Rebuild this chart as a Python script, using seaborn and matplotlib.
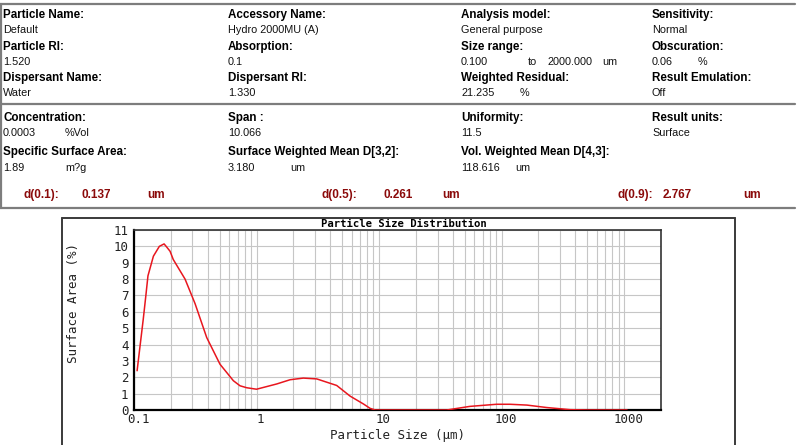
import matplotlib
matplotlib.use("Agg")
import matplotlib.pyplot as plt
from matplotlib.lines import Line2D
from matplotlib.ticker import LogLocator, NullFormatter
from matplotlib.transforms import ScaledTranslation
import numpy as np
import pandas as pd
import seaborn as sns

# ---------------- data ----------------
particle_size = [0.106, 0.119, 0.125, 0.130, 0.144, 0.161, 0.176, 0.183, 0.197, 0.209,
                 0.261, 0.315, 0.392, 0.503, 0.647, 0.733, 0.832, 1.0, 1.46,
                 1.88, 2.41, 3.10, 4.51, 5.8, 7.45, 8.45, 9.3, 20.0, 35.7,
                 55.0, 91.0, 117.0, 161.0, 234.0, 362.0, 500.0, 1057.0]
surface_area = [2.4, 5.55, 7.0, 8.2, 9.4, 10.0, 10.15, 10.0, 9.7, 9.2,
                8.0, 6.5, 4.43, 2.8, 1.79, 1.48, 1.36, 1.27, 1.59,
                1.85, 1.95, 1.90, 1.5, 0.85, 0.37, 0.1, 0.0, 0.0, 0.0,
                0.22, 0.35, 0.35, 0.30, 0.15, 0.02, 0.0, 0.0]
x_ticks = [0.1, 1, 10, 100, 1000]
x_tick_labels = ["0.1", "1", "10", "100", "1000"]
y_ticks = list(range(0, 12))

# header texts: (x px, y px, text)
header_labels = [
    (3, 15, "Particle Name:"), (228, 15, "Accessory Name:"), (461, 15, "Analysis model:"), (652, 15, "Sensitivity:"),
    (3, 47, "Particle RI:"), (228, 47, "Absorption:"), (461, 47, "Size range:"), (652, 47, "Obscuration:"),
    (3, 78, "Dispersant Name:"), (228, 78, "Dispersant RI:"), (461, 78, "Weighted Residual:"), (652, 78, "Result Emulation:"),
    (3, 118, "Concentration:"), (228, 118, "Span :"), (461, 118, "Uniformity:"), (652, 118, "Result units:"),
    (3, 152, "Specific Surface Area:"), (228, 152, "Surface Weighted Mean D[3,2]:"), (461, 152, "Vol. Weighted Mean D[4,3]:"),
]
header_values = [
    (3, 30, "Default"), (228, 30, "Hydro 2000MU (A)"), (461, 30, "General purpose"), (652, 30, "Normal"),
    (3, 62, "1.520"), (228, 62, "0.1"), (461, 62, "0.100"), (528, 62, "to"), (547, 62, "2000.000"), (602, 62, "um"),
    (652, 62, "0.06"), (698, 62, "%"),
    (3, 93, "Water"), (228, 93, "1.330"), (461, 93, "21.235"), (520, 93, "%"), (652, 93, "Off"),
    (3, 133, "0.0003"), (65, 133, "%Vol"), (228, 133, "10.066"), (461, 133, "11.5"), (652, 133, "Surface"),
    (3, 168, "1.89"), (65, 168, "m?g"), (228, 168, "3.180"), (290, 168, "um"), (461, 168, "118.616"), (515, 168, "um"),
]
d_values = [
    (23, 195, "d(0.1):"), (82, 195, "0.137"), (147, 195, "um"),
    (322, 195, "d(0.5):"), (383, 195, "0.261"), (442, 195, "um"),
    (617, 195, "d(0.9):"), (663, 195, "2.767"), (743, 195, "um"),
]

# ---------------- figure ----------------
sns.set_theme(style="white")
plt.rcParams['font.family'] = ['Liberation Sans', 'DejaVu Sans']

W, H = 800, 445
fig = plt.figure(figsize=(W / 100, H / 100), dpi=100)
fig.patch.set_facecolor("white")


def fx(x):
    return x / W


def fy(y):
    return 1 - y / H


def hline(x0, x1, y, color, lw):
    fig.add_artist(Line2D([fx(x0), fx(x1)], [fy(y), fy(y)], color=color, lw=lw,
                          transform=fig.transFigure))


def vline(x, y0, y1, color, lw):
    fig.add_artist(Line2D([fx(x), fx(x)], [fy(y0), fy(y1)], color=color, lw=lw,
                          transform=fig.transFigure))


# header rules
rule_c = "#7d7d7d"
for yy in (4, 104, 208):
    hline(0, 795, yy, rule_c, 1.6)
vline(1, 4, 208, rule_c, 1.6)

for x, y, t in header_labels:
    fig.text(fx(x), fy(y), t, fontsize=8.4, fontweight="bold", ha="left", va="center", color="black")
for x, y, t in header_values:
    fig.text(fx(x), fy(y), t, fontsize=7.8, ha="left", va="center", color="#111111")
for x, y, t in d_values:
    fig.text(fx(x), fy(y), t, fontsize=8.5, fontweight="bold", ha="left", va="center", color="#8b0a0a")

# chart outer box
box_c = "#3a3a3a"
hline(62, 735, 218, box_c, 1.4)
vline(62, 218, 446, box_c, 1.4)
vline(735, 218, 446, box_c, 1.4)
fig.text(fx(404), fy(224), "Particle Size Distribution", fontsize=7.6, fontweight="bold",
         family="DejaVu Sans Mono", ha="center", va="center", color="black")

# axes
ax = fig.add_axes([fx(134), fy(410), (661 - 134) / W, (410 - 230) / H])
ax.set_xscale("log")
df = pd.DataFrame({"Particle Size": particle_size, "Surface Area": surface_area})
sns.lineplot(data=df, x="Particle Size", y="Surface Area", ax=ax, color="#e8161e",
             linewidth=1.1, zorder=5)
ax.set_xlim(0.1, 2000)
ax.set_ylim(0, 11)
ax.set_xticks(x_ticks)
ax.set_xticklabels(x_tick_labels)
ax.xaxis.set_minor_locator(LogLocator(base=10, subs=np.arange(2, 10)))
ax.xaxis.set_minor_formatter(NullFormatter())
ax.set_yticks(y_ticks)
ax.set_yticklabels([str(v) for v in y_ticks])
ax.grid(True, which="both", axis="x", color="#c6c6c6", lw=0.8)
ax.grid(True, which="major", axis="y", color="#c6c6c6", lw=0.8)
ax.tick_params(axis="both", which="both", length=0)
ax.tick_params(axis="x", pad=2)
ax.tick_params(axis="y", pad=4)
shift = ScaledTranslation(4 / 100, 0, fig.dpi_scale_trans)
for lab in ax.get_xticklabels():
    lab.set_transform(lab.get_transform() + shift)
for lab in ax.get_xticklabels() + ax.get_yticklabels():
    lab.set_family("DejaVu Sans Mono")
    lab.set_fontsize(9)
    lab.set_color("#222222")

for side in ("left", "bottom"):
    ax.spines[side].set_color("black")
    ax.spines[side].set_linewidth(1.6)
for side in ("top", "right"):
    ax.spines[side].set_color("#333333")
    ax.spines[side].set_linewidth(1.2)
    ax.spines[side].set_visible(True)

ax.set_xlabel("Particle Size (\u03bcm)", family="DejaVu Sans Mono", fontsize=9, color="#222222")
ax.set_ylabel("Surface Area (%)", family="DejaVu Sans Mono", fontsize=9, color="#222222")
ax.xaxis.label.set_va("center")
ax.yaxis.label.set_va("center")
ax.xaxis.set_label_coords((397 - 134) / 527, -(435 - 410) / 180)
ax.yaxis.set_label_coords((73 - 134) / 527, (410 - 303) / 180)

fig.savefig("out.png", dpi=100, facecolor="white")
